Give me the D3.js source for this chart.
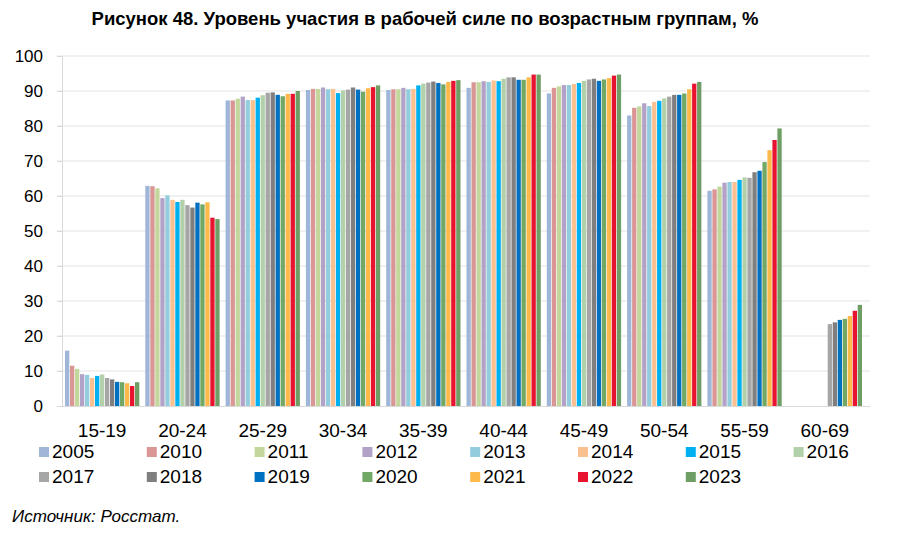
<!DOCTYPE html>
<html>
<head>
<meta charset="utf-8">
<script src="https://cdn.jsdelivr.net/npm/d3@7"></script>
<style>
  body { margin: 0; background: #fff; }
  svg { font-family: "Liberation Sans", Arial, sans-serif; }
</style>
</head>
<body>
<div id="chart"></div>
<script>
// age groups and years
var groups = ["15-19", "20-24", "25-29", "30-34", "35-39", "40-44", "45-49", "50-54", "55-59", "60-69"];
var years = ["2005", "2010", "2011", "2012", "2013", "2014", "2015", "2016", "2017", "2018", "2019", "2020", "2021", "2022", "2023"];
var colors = ["#9fb6d9", "#d99694", "#c3d69b", "#b3a2c7", "#93cddd", "#fac090", "#00b0f0", "#b2d1aa",
              "#a6a6a6", "#7f7f7f", "#0070c0", "#72a865", "#fdb94a", "#e8132f", "#6e9e64"];
var yTicks = [0, 10, 20, 30, 40, 50, 60, 70, 80, 90, 100];

// values per age group, one per year (same order as years)
var g15_19 = [15.8, 11.5, 10.6, 9.1, 8.9, 8.0, 8.6, 9.0, 8.0, 7.6, 6.9, 6.8, 6.5, 5.7, 6.8];
var g20_24 = [62.9, 62.8, 62.2, 59.4, 60.2, 58.9, 58.3, 58.9, 57.4, 56.7, 58.1, 57.6, 58.2, 53.8, 53.4];
var g25_29 = [87.3, 87.3, 87.8, 88.4, 87.4, 87.4, 88.1, 88.8, 89.5, 89.6, 88.9, 88.5, 89.2, 89.2, 90.0];
var g30_34 = [90.3, 90.6, 90.6, 91.0, 90.5, 90.6, 89.4, 90.2, 90.4, 91.0, 90.4, 89.8, 90.8, 91.1, 91.6];
var g35_39 = [90.3, 90.5, 90.5, 90.9, 90.5, 90.6, 91.6, 92.1, 92.4, 92.7, 92.3, 91.9, 92.6, 92.9, 93.1];
var g40_44 = [90.9, 92.5, 92.5, 92.8, 92.6, 93.0, 92.8, 93.5, 93.9, 93.9, 93.2, 93.2, 93.9, 94.7, 94.7];
var g45_49 = [89.3, 90.9, 91.3, 91.7, 91.7, 92.0, 92.3, 92.9, 93.3, 93.5, 92.9, 93.3, 93.7, 94.4, 94.7];
var g50_54 = [83.0, 85.2, 85.6, 86.5, 85.7, 86.9, 87.2, 87.9, 88.4, 88.9, 88.9, 89.3, 90.5, 92.1, 92.6];
var g55_59 = [61.5, 61.9, 62.7, 63.8, 64.0, 64.0, 64.6, 65.3, 65.2, 66.8, 67.2, 69.7, 73.1, 76.0, 79.3];
var g60_69 = [null, null, null, null, null, null, null, null, 23.4, 23.9, 24.6, 24.9, 25.7, 27.2, 28.9];
var values = [g15_19, g20_24, g25_29, g30_34, g35_39, g40_44, g45_49, g50_54, g55_59, g60_69];

var width = 911, height = 540;
var plotLeft = 62, plotRight = 865, plotTop = 56, plotBottom = 406;

var svg = d3.select("#chart").append("svg")
  .attr("width", width)
  .attr("height", height);

// title
svg.append("text")
  .attr("x", 425).attr("y", 25)
  .attr("text-anchor", "middle")
  .attr("font-size", 18.5)
  .attr("font-weight", "bold")
  .attr("fill", "#000")
  .text("Рисунок 48. Уровень участия в рабочей силе по возрастным группам, %");

var x0 = d3.scaleBand().domain(groups).range([plotLeft, plotRight]).paddingInner(0).paddingOuter(0);
var x1 = d3.scaleBand().domain(years).range([0, x0.bandwidth()]).paddingOuter(0.6).paddingInner(0.14);
var y = d3.scaleLinear().domain([0, 100]).range([plotBottom, plotTop]);

// grid
svg.append("g").selectAll("line").data(yTicks.slice(1)).enter().append("line")
  .attr("x1", plotLeft - 5).attr("x2", plotRight + 5)
  .attr("y1", function(d) { return y(d); }).attr("y2", function(d) { return y(d); })
  .attr("stroke", "#e3e3e3").attr("stroke-width", 1);

// y axis
var yAxis = svg.append("g")
  .attr("transform", "translate(" + plotLeft + ",0)")
  .call(d3.axisLeft(y).tickValues(yTicks).tickSize(5).tickPadding(14));
yAxis.select(".domain").attr("stroke", "#d9d9d9");
yAxis.selectAll(".tick line").attr("stroke", "#d9d9d9");
yAxis.selectAll("text").attr("font-size", 17).attr("fill", "#000")
  .attr("font-family", "Liberation Sans, Arial, sans-serif");

// bars
var gs = svg.append("g").selectAll("g").data(groups).enter().append("g")
  .attr("transform", function(d) { return "translate(" + x0(d) + ",0)"; });

gs.selectAll("rect")
  .data(function(d, i) {
    return years.map(function(yr, j) { return { year: yr, v: values[i][j], c: colors[j] }; })
      .filter(function(e) { return e.v != null; });
  })
  .enter().append("rect")
  .attr("x", function(d) { return x1(d.year); })
  .attr("width", x1.bandwidth())
  .attr("y", function(d) { return y(d.v); })
  .attr("height", function(d) { return y(0) - y(d.v); })
  .attr("fill", function(d) { return d.c; });

// x axis
svg.append("line")
  .attr("x1", plotLeft).attr("x2", plotRight + 5)
  .attr("y1", plotBottom + 0.5).attr("y2", plotBottom + 0.5)
  .attr("stroke", "#d9d9d9");

svg.append("g").selectAll("text").data(groups).enter().append("text")
  .attr("x", function(d) { return x0(d) + x0.bandwidth() / 2; })
  .attr("y", 437)
  .attr("text-anchor", "middle")
  .attr("font-size", 19)
  .attr("fill", "#000")
  .text(function(d) { return d; });

// legend
var leg = svg.append("g").selectAll("g").data(years).enter().append("g")
  .attr("transform", function(d, i) {
    var row = Math.floor(i / 8), col = i % 8;
    return "translate(" + (39 + col * 107.8) + "," + (446 + row * 25) + ")";
  });
leg.append("rect")
  .attr("width", 10).attr("height", 10).attr("y", 1)
  .attr("fill", function(d, i) { return colors[i]; });
leg.append("text")
  .attr("x", 13).attr("y", 12)
  .attr("font-size", 19)
  .attr("fill", "#000")
  .text(function(d) { return d; });

// source
svg.append("text")
  .attr("x", 12).attr("y", 522)
  .attr("font-size", 17)
  .attr("font-style", "italic")
  .attr("fill", "#000")
  .text("Источник: Росстат.");
</script>
</body>
</html>
